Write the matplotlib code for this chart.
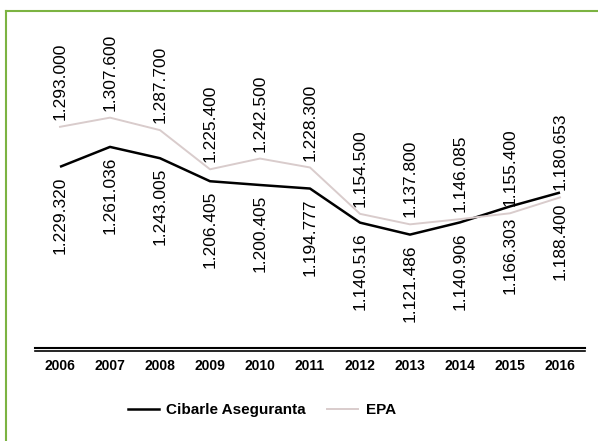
import matplotlib
matplotlib.use("Agg")
import matplotlib.pyplot as plt
from matplotlib.lines import Line2D

# ── data ──────────────────────────────────────────────────────────────
years = ["2006", "2007", "2008", "2009", "2010", "2011",
         "2012", "2013", "2014", "2015", "2016"]
asegurados = [1229320, 1261036, 1243005, 1206405, 1200405, 1194777,
              1140516, 1121486, 1140906, 1166303, 1188400]
epa = [1293000, 1307600, 1287700, 1225400, 1242500, 1228300,
       1154500, 1137800, 1146085, 1155400, 1180653]
names = ["Cibarle Aseguranta", "EPA"]


def fmt(v):
    return f"{v:,}".replace(",", ".")


W, H = 598, 441
fig = plt.figure(figsize=(W / 100, H / 100), dpi=100)
ax = fig.add_axes([35 / W, 1 - 348 / H, 550 / W, 328 / H])

x = range(len(years))
ax.plot(x, asegurados, color="black", lw=1.8, solid_capstyle="butt")
ax.plot(x, epa, color="#d9cccc", lw=1.4)

# value labels: EPA above, asegurados below
font = dict(family="Liberation Sans", fontsize=12.5, rotation=90, color="black")
for i, (a, e) in enumerate(zip(asegurados, epa)):
    ax.annotate(fmt(e), (i, e), xytext=(0, 5), textcoords="offset points",
                ha="center", va="bottom", **font)
    ax.annotate(fmt(a), (i, a), xytext=(0, -7), textcoords="offset points",
                ha="center", va="top", **font)

ax.set_xlim(-0.5, len(years) - 0.5)
ax.set_ylim(941000, 1463000)
ax.set_yticks([])
ax.set_xticks(list(x))
ax.set_xticklabels(years, fontsize=10, fontweight="bold", family="Liberation Sans")
ax.tick_params(axis="x", length=0, pad=8)
for s in ["top", "right", "left", "bottom"]:
    ax.spines[s].set_visible(False)

# double axis line
ax.plot([0, 1], [0, 0], transform=ax.transAxes, color="black", lw=1.5, clip_on=False)
ax.plot([0, 1], [-0.008, -0.008], transform=ax.transAxes, color="black", lw=1.2, clip_on=False)

handles = [Line2D([], [], color="black", lw=1.8),
           Line2D([], [], color="#d9cccc", lw=1.4)]
fig.legend(handles, names, loc="center", bbox_to_anchor=(262 / W, 1 - 410 / H),
           ncol=2, frameon=False, handlelength=2.0, handletextpad=0.5,
           columnspacing=1.4,
           prop=dict(family="Liberation Sans", size=11, weight="bold"))

# green frame (top and left edges)
fig.add_artist(Line2D([5.5 / W, 5.5 / W], [0, 1 - 10.5 / H], color="#7cb342", lw=1.5))
fig.add_artist(Line2D([5.5 / W, 1], [1 - 10.5 / H, 1 - 10.5 / H], color="#7cb342", lw=1.5))

fig.savefig("out.png", dpi=100)
